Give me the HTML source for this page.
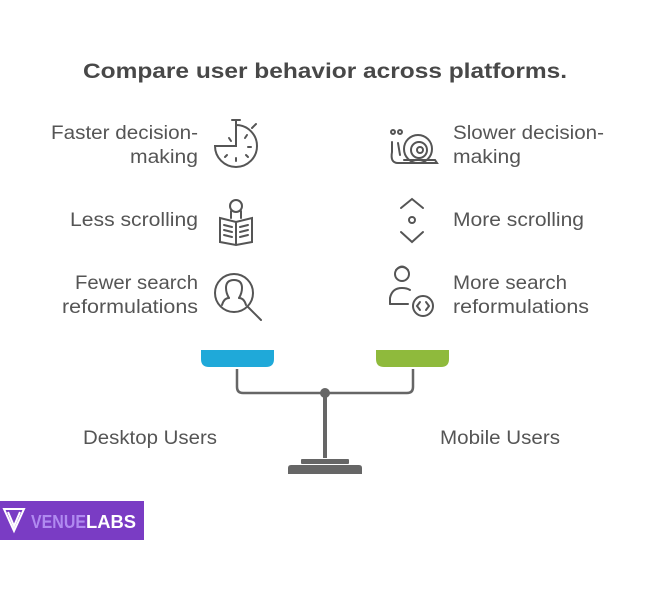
<!DOCTYPE html>
<html><head><style>
html,body{margin:0;padding:0;background:#fff;}
svg{display:block;font-family:"Liberation Sans",Arial,sans-serif;}
</style></head><body>
<svg width="650" height="600" viewBox="0 0 650 600" xmlns="http://www.w3.org/2000/svg">
<text x="325" y="78" text-anchor="middle" font-size="21" font-weight="bold" fill="#484848" textLength="484" lengthAdjust="spacingAndGlyphs">Compare user behavior across platforms.</text>
<g font-size="19" fill="#555">
<text x="198" y="139" text-anchor="end" textLength="147" lengthAdjust="spacingAndGlyphs">Faster decision-</text>
<text x="198" y="163" text-anchor="end" textLength="68" lengthAdjust="spacingAndGlyphs">making</text>
<text x="198" y="226" text-anchor="end" textLength="128" lengthAdjust="spacingAndGlyphs">Less scrolling</text>
<text x="198" y="289" text-anchor="end" textLength="123" lengthAdjust="spacingAndGlyphs">Fewer search</text>
<text x="198" y="313" text-anchor="end" textLength="136" lengthAdjust="spacingAndGlyphs">reformulations</text>
<text x="453" y="139" textLength="151" lengthAdjust="spacingAndGlyphs">Slower decision-</text>
<text x="453" y="163" textLength="68" lengthAdjust="spacingAndGlyphs">making</text>
<text x="453" y="226" textLength="131" lengthAdjust="spacingAndGlyphs">More scrolling</text>
<text x="453" y="289" textLength="114" lengthAdjust="spacingAndGlyphs">More search</text>
<text x="453" y="313" textLength="136" lengthAdjust="spacingAndGlyphs">reformulations</text>
<text x="83" y="444" textLength="134" lengthAdjust="spacingAndGlyphs">Desktop Users</text>
<text x="440" y="444" textLength="120" lengthAdjust="spacingAndGlyphs">Mobile Users</text>
</g>
<g fill="none" stroke="#555" stroke-width="2" stroke-linecap="round">
<path d="M236 125 A21 21 0 1 1 215 146 L236 146 Z"/>
<line x1="236" y1="120" x2="236" y2="146"/><line x1="232" y1="120" x2="240" y2="120"/>
<line x1="252" y1="128" x2="256" y2="124"/>
<line x1="229" y1="138" x2="231" y2="141"/><line x1="247" y1="135" x2="245" y2="138"/><line x1="251" y1="147" x2="248" y2="147"/>
<line x1="236" y1="158" x2="236" y2="161"/><line x1="227" y1="155" x2="225" y2="157"/><line x1="246" y1="155" x2="248" y2="157"/>
<circle cx="236" cy="206" r="6"/>
<path d="M231 211 L231 218 M241 211 L241 218"/>
<path d="M220 218 L236 222 L252 218 L252 242 L236 245 L220 242 Z M236 222 L236 245"/>
<path d="M224 225 L232 227 M224 230 L232 232 M224 235 L232 237 M240 227 L248 225 M240 232 L248 230 M240 237 L248 235"/>
<circle cx="234" cy="293" r="19"/>
<path d="M229 298 Q226 293 226 288 Q226 280 234 280 Q242 280 242 288 Q242 293 239 298"/>
<path d="M222 305 Q224 298 229 298 M246 305 Q244 298 239 298"/>
<line x1="248" y1="307" x2="261" y2="320"/>
<circle cx="418" cy="149" r="14"/><circle cx="419" cy="150" r="8"/><circle cx="420" cy="150" r="3"/>
<path d="M404 160 L435 160 L437 163 L398 163 Q390 163 392 152 L392 142 M398 143 L400 155"/>
<circle cx="393" cy="132" r="2"/><circle cx="400" cy="132" r="2"/>
<path d="M401 208 L412 199 L423 208 M401 232 L412 242 L423 232"/>
<circle cx="412" cy="220" r="3"/>
<circle cx="402" cy="274" r="7"/>
<path d="M396 270 Q402 263 408 270"/>
<path d="M390 304 L390 298 Q392 288 402 288 Q407 288 410 290"/>
<line x1="390" y1="304" x2="408" y2="304"/>
<circle cx="423" cy="306" r="10"/>
<path d="M420 302 L417 306 L420 310 M426 302 L429 306 L426 310"/>
</g>
<path d="M201 350 L274 350 L274 359 Q274 367 266 367 L209 367 Q201 367 201 359 Z" fill="#1fa9d9"/>
<path d="M376 350 L449 350 L449 359 Q449 367 441 367 L384 367 Q376 367 376 359 Z" fill="#8fba3c"/>
<path d="M237 369 L237 387 Q237 393 243 393 L407 393 Q413 393 413 387 L413 369" fill="none" stroke="#666" stroke-width="2.5"/>
<circle cx="325" cy="393" r="5" fill="#666"/>
<rect x="323" y="393" width="4" height="65" fill="#666"/>
<rect x="301" y="459" width="48" height="5" rx="1" fill="#666"/>
<path d="M288 474 L288 468 Q288 465 291 465 L359 465 Q362 465 362 468 L362 474 Z" fill="#666"/>
<rect x="0" y="501" width="144" height="39" fill="#7a3cc4"/>
<path d="M4 509 L14 531 L24 509 Z M8 512 L14 526 L20 512" fill="none" stroke="#fff" stroke-width="2"/>
<text x="31" y="528" font-size="18" font-weight="bold" fill="#b08af0" textLength="55" lengthAdjust="spacingAndGlyphs">VENUE</text>
<text x="86" y="528" font-size="18" font-weight="bold" fill="#fff" textLength="50" lengthAdjust="spacingAndGlyphs">LABS</text>
</svg>
</body></html>
